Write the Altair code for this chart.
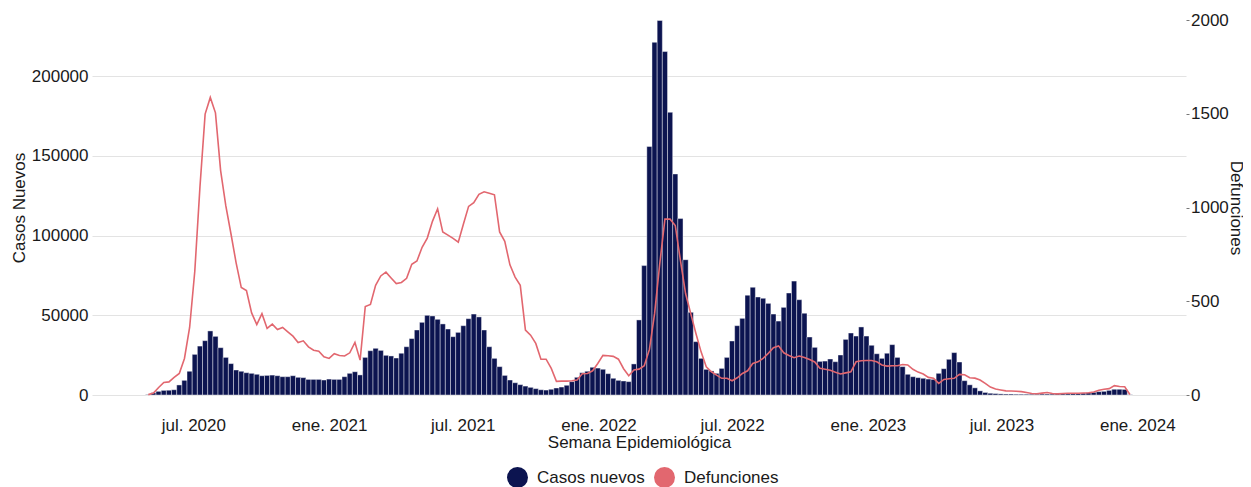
import altair as alt
import pandas as pd

# ---------------- data ----------------
INICIO = "2020-05-01"          # first epidemiological week shown
SERIES = ["Casos nuevos", "Defunciones"]
COLORES = ["#0c1450", "#e2676f"]

# weekly new cases, in thousands
CASOS_MILES = [
    0.3, 1.4, 2.3, 2.9, 3.0, 3.3, 6.3, 9.2, 14.9, 25.5,
    30.7, 34.1, 40.2, 36.8, 29.7, 23.6, 19.7, 15.7, 14.9, 14.0,
    13.6, 13.0, 12.1, 12.3, 12.5, 12.1, 11.5, 11.5, 12.1, 11.1,
    10.9, 9.8, 9.8, 9.8, 9.4, 10.0, 9.8, 9.8, 11.5, 13.6,
    14.6, 12.6, 23.6, 27.8, 29.3, 28.0, 24.9, 24.5, 23.2, 26.2,
    30.3, 35.4, 40.8, 45.6, 50.0, 49.6, 47.5, 44.6, 41.4, 36.6,
    39.3, 43.5, 47.9, 50.8, 49.0, 40.8, 30.3, 23.0, 17.8, 12.3,
    9.4, 7.7, 6.5, 5.6, 4.8, 4.0, 3.3, 3.1, 3.6, 4.4,
    5.0, 6.1, 8.4, 11.1, 14.0, 14.9, 17.4, 16.9, 16.1, 13.4,
    10.5, 9.2, 8.8, 8.4, 19.5, 47.1, 81.2, 155.9, 221.3, 235.0,
    215.5, 177.4, 138.7, 110.7, 84.9, 51.9, 33.5, 23.0, 16.1, 15.1,
    13.6, 16.7, 23.6, 33.9, 43.5, 48.1, 62.6, 67.6, 61.5, 60.7,
    57.5, 50.8, 46.4, 55.0, 64.0, 71.5, 59.8, 51.3, 36.4, 29.9,
    21.1, 21.3, 22.6, 20.9, 25.1, 34.9, 38.9, 37.0, 42.7, 37.0,
    31.2, 25.9, 23.0, 26.2, 31.6, 23.6, 17.8, 13.0, 11.5, 10.9,
    10.5, 10.0, 9.8, 13.6, 16.5, 22.4, 26.6, 20.7, 9.0, 6.4,
    4.5, 2.6, 1.6, 1.1, 0.9, 0.7, 0.6, 0.6, 0.5, 0.5,
    0.5, 0.5, 0.5, 0.6, 0.6, 0.6, 0.7, 0.8, 0.8, 0.9,
    1.0, 1.2, 1.4, 1.7, 2.1, 2.3, 2.9, 3.6, 3.6, 3.5,
    0.2,
]

# weekly deaths
DEFUNCIONES = [
    2, 10, 40, 67, 70, 94, 115, 195, 360, 660,
    1110, 1498, 1587, 1505, 1197, 1010, 860, 705, 573, 557,
    438, 376, 434, 355, 378, 349, 360, 337, 314, 280,
    289, 257, 239, 234, 204, 195, 220, 211, 208, 225,
    280, 186, 472, 483, 585, 635, 655, 624, 594, 600,
    622, 697, 715, 788, 837, 926, 993, 869, 853, 835,
    815, 912, 1006, 1026, 1070, 1084, 1076, 1068, 870, 820,
    694, 629, 585, 346, 319, 275, 191, 191, 142, 73,
    74, 74, 76, 80, 113, 115, 129, 168, 211, 209,
    206, 191, 140, 103, 133, 138, 156, 243, 434, 700,
    938, 938, 904, 718, 541, 434, 328, 230, 150, 124,
    106, 89, 89, 76, 92, 115, 129, 168, 177, 195,
    222, 252, 262, 225, 211, 199, 208, 200, 189, 176,
    142, 137, 132, 121, 112, 118, 124, 177, 183, 184,
    184, 177, 160, 154, 156, 156, 163, 160, 137, 122,
    112, 94, 89, 62, 83, 87, 89, 110, 108, 92,
    90, 80, 62, 42, 32, 27, 22, 21, 20, 18,
    13, 8, 7, 10, 13, 8, 6, 8, 9, 9,
    9, 11, 12, 16, 25, 31, 34, 50, 45, 44,
    3,
]

TICKS_FECHA = [(2020, 7), (2021, 1), (2021, 7), (2022, 1),
               (2022, 7), (2023, 1), (2023, 7), (2024, 1)]
TICKS_CASOS = [0, 50000, 100000, 150000, 200000]
TICKS_DEF = [0, 500, 1000, 1500, 2000]

# ---------------- tables ----------------
n = min(len(CASOS_MILES), len(DEFUNCIONES))
fechas = pd.date_range(INICIO, periods=n, freq="7D").strftime("%Y-%m-%d").tolist()
df = pd.DataFrame({
    "fecha": fechas,
    "casos": [round(c * 1000) for c in CASOS_MILES[:n]],
    "defunciones": DEFUNCIONES[:n],
})
# rows that only feed the legend (drawn outside the clipped plot area)
df_leyenda = pd.DataFrame({"serie": SERIES, "fecha": [fechas[0]] * 2, "casos": [-50000, -50000]})

FONT = "Liberation Sans"
TXT = "#1a1a1a"

x_enc = alt.X(
    "fecha:T",
    title="Semana Epidemiológica",
    scale=alt.Scale(type="utc", domain=[
        alt.DateTime(year=2020, month=2, date=21, hours=12, utc=True),
        alt.DateTime(year=2024, month=2, date=29, hours=6, utc=True),
    ]),
    axis=alt.Axis(
        values=[alt.DateTime(year=y, month=m, date=1, utc=True) for y, m in TICKS_FECHA],
        labelExpr="(utcmonth(datum.value) == 0 ? 'ene. ' : 'jul. ') + utcyear(datum.value)",
        grid=False, domain=False, ticks=False, tickSize=0,
        labelPadding=22, titlePadding=1, labelFlush=False,
    ),
)

y_casos = alt.Y(
    "casos:Q",
    title="Casos Nuevos",
    scale=alt.Scale(domain=[0, 235300], nice=False),
    axis=alt.Axis(orient="left", values=TICKS_CASOS, format="d", grid=True,
                  domain=False, ticks=False, tickSize=0, labelPadding=4, titlePadding=3),
)

barras = alt.Chart(df).mark_bar(
    width=5.2, fill=COLORES[0], stroke="white", strokeWidth=0.5, strokeOpacity=0.85
).encode(x=x_enc, y=y_casos)

leyenda = alt.Chart(df_leyenda).mark_circle(opacity=1, clip=True).encode(
    x=x_enc,
    y=y_casos,
    color=alt.Color(
        "serie:N",
        scale=alt.Scale(domain=SERIES, range=COLORES),
        legend=alt.Legend(
            title=None, orient="none", direction="horizontal",
            legendX=415, legendY=447, symbolType="circle", symbolSize=441,
            symbolStrokeWidth=0, labelFontSize=17, labelFont=FONT, labelColor=TXT,
            labelOffset=9, columnPadding=9, padding=0,
        ),
    ),
)

linea = alt.Chart(df).mark_line(color=COLORES[1], strokeWidth=1.6).encode(
    x=x_enc,
    y=alt.Y(
        "defunciones:Q",
        title="Defunciones",
        scale=alt.Scale(domain=[0, 2000], nice=False),
        axis=alt.Axis(orient="right", values=TICKS_DEF, format="d", grid=False, domain=False,
                      ticks=True, tickSize=3, tickColor="#777777", labelPadding=1.5,
                      titlePadding=-1.5, titleAngle=90, titleBaseline="bottom"),
    ),
)

chart = (
    alt.layer(alt.layer(barras, leyenda), linea)
    .resolve_scale(y="independent")
    .properties(
        width=1094, height=375,
        padding={"left": 84, "top": 12, "right": 57, "bottom": 93},
        autosize=alt.AutoSizeParams(type="none"),
        background="white",
    )
    .configure_view(stroke=None)
    .configure_axis(
        labelFont=FONT, titleFont=FONT, labelFontSize=17, titleFontSize=17,
        titleFontWeight="normal", labelColor=TXT, titleColor=TXT,
        gridColor="#e3e3e3", gridWidth=1,
    )
)

chart.save("out.html", embed_options={"renderer": "svg", "actions": False})
